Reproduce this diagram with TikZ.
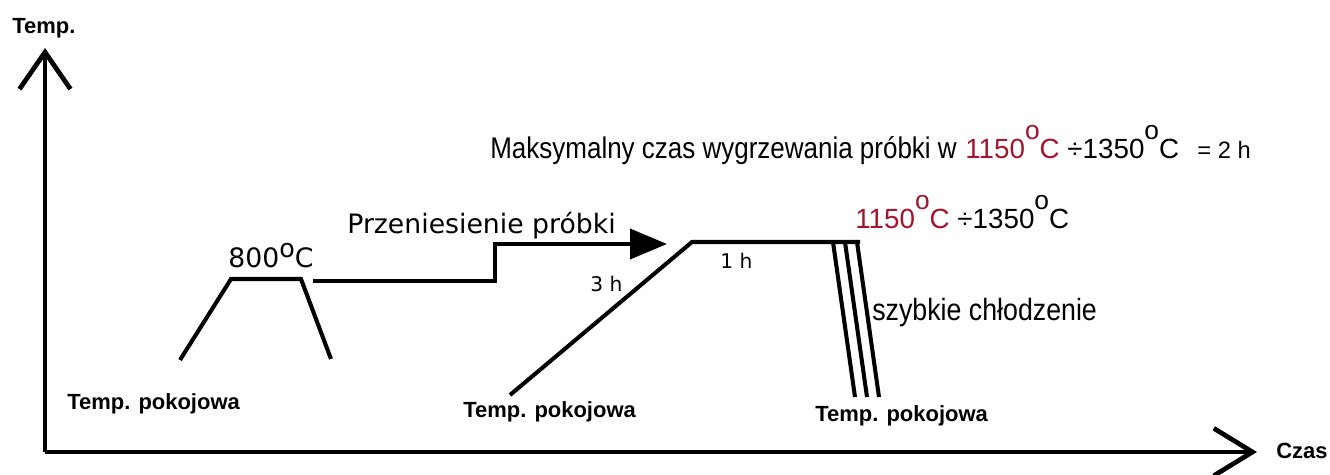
\documentclass[tikz,border=0pt]{standalone}
\usepackage{fontspec}
\setmainfont{Liberation Sans}
\newfontfamily\verdfont{DejaVu Sans}
\newfontfamily\waskifont[FakeStretch=0.87]{Liberation Sans}
\usetikzlibrary{arrows.meta}
\definecolor{ciemnyczerwony}{RGB}{165,20,45}
\newcommand{\stopnie}[2]{\raisebox{#1}{\scalebox{#2}{o}}C}

\tikzset{
  linia/.style={line width=2.3pt},
  os/.style={line width=2.7pt},
  napis/.style={inner sep=0pt,anchor=base west},
  etykieta/.style={napis,font=\fontsize{12.5pt}{15pt}\selectfont\bfseries},
  verd/.style={napis,font=\verdfont\fontsize{15.2pt}{18pt}\selectfont},
  verdmaly/.style={napis,font=\verdfont\fontsize{11.5pt}{14pt}\selectfont},
  waski/.style={napis,font=\waskifont\fontsize{17pt}{20pt}\selectfont},
  zakres/.style={napis,font=\fontsize{15.8pt}{18pt}\selectfont},
  maly/.style={napis,font=\fontsize{13.5pt}{16pt}\selectfont}
}

\begin{document}
\begin{tikzpicture}[x=0.02cm,y=-0.02cm]
\useasboundingbox (0,0) rectangle (1330,474);

\coordinate (O) at (45,452);
\coordinate (Tmax) at (45,48);
\coordinate (Tend) at (1257,452);
\draw[os,-{Straight Barb[length=21pt,width=29pt]}] (O) -- (Tmax);
\draw[os,-{Straight Barb[length=22pt,width=27pt]}] (O) -- (Tend);

\coordinate (a1) at (180,360);
\coordinate (a2) at (231,279);
\coordinate (a3) at (301,279);
\coordinate (a4) at (331,359);
\draw[linia] (a1) -- (a2) -- (a3) -- (a4);

\coordinate (p1) at (313,281);
\coordinate (p2) at (495,281);
\coordinate (p3) at (495,244);
\coordinate (p4) at (667,244);
\draw[linia,-{Triangle[length=21pt,width=17pt]}] (p1) -- (p2) -- (p3) -- (p4);

\coordinate (b1) at (510,395);
\coordinate (b2) at (692,242);
\coordinate (b3) at (860,242);
\draw[linia] (b1) -- (b2) -- (b3);
\foreach \g/\d in {833/855,845/867,857/879} \draw[linia] (\g,242) -- (\d,397);

\node[etykieta] (temp) at (12,33) {Temp.};
\node[etykieta] (czas) at (1276,458) {Czas};
\foreach \x/\y/\n in {67/409/pok1,463/417/pok2,815/421/pok3} \node[etykieta] (\n) at (\x,\y) {Temp. pokojowa};

\node[verd] (t800) at (228,267) {800\stopnie{.36em}{.95}};
\node[verd] (przen) at (347,233) {Przeniesienie próbki};
\node[verdmaly] (h3) at (590,291) {3 h};
\node[verdmaly] (h1) at (720,268) {1 h};
\node[waski,font=\waskifont\fontsize{17.5pt}{20pt}\selectfont] (chlodz) at (872,320) {szybkie chłodzenie};

\node[waski] (maks) at (490,158) {Maksymalny czas wygrzewania próbki w};
\node[zakres] (zakres1) at (965,158) {\textcolor{ciemnyczerwony}{1150\stopnie{.66em}{.95}} ÷1350\stopnie{.66em}{.95}};
\node[maly] (dwie) at (1197,158) {= 2 h};
\node[zakres] (zakres2) at (855,228) {\textcolor{ciemnyczerwony}{1150\stopnie{.66em}{.95}} ÷1350\stopnie{.66em}{.95}};

\end{tikzpicture}
\end{document}
